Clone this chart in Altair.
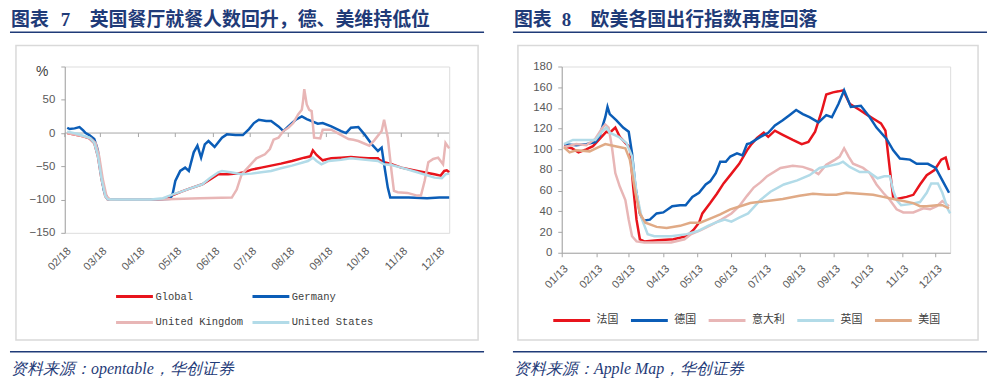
import altair as alt
import pandas as pd

# ---------------- Left panel: OpenTable seated diners, % y/y (days from 2020-02-18)
L_START = "2020-02-18"
L_NAMES = ["Global", "United Kingdom", "Germany", "United States"]
L_COLORS = ["#E8141C", "#E8B6B6", "#0B5DB7", "#B2DBE8"]

global_days = [2, 5, 10, 15, 20, 24, 27, 30, 33, 35, 50, 70, 80, 87, 95, 101, 112, 118, 125, 133,
               140, 146, 152, 160, 168, 176, 185, 195, 200, 202, 205, 210, 217, 225, 233, 240, 247, 255, 256, 260,
               265, 274, 287, 301, 306, 309, 311, 313]
global_vals = [0, -1, -3, -5, -8, -15, -35, -70, -95, -100, -100, -100, -99, -94, -88, -84, -77, -70, -62, -62,
               -61, -59, -55, -52, -49, -46, -42, -37, -35, -26, -33, -41, -38, -37, -36, -37, -38, -38, -40, -44,
               -46, -52, -57, -62, -64, -57, -56, -59]

germany_days = [2, 4, 8, 12, 15, 17, 20, 24, 26, 27, 29, 32, 35, 45, 60, 75, 86, 88, 90, 94,
                98, 101, 105, 108, 111, 114, 117, 122, 128, 132, 139, 145, 150, 154, 158, 164, 168, 174, 178, 182,
                188, 193, 197, 201, 206, 210, 217, 225, 229, 231, 233, 239, 244, 250, 255, 258, 260, 263, 265, 280,
                295, 305, 313]
germany_vals = [8, 6, 7, 9, 4, 0, -3, -9, -20, -27, -55, -87, -99, -100, -100, -100, -99, -90, -72, -57,
                -52, -57, -29, -19, -37, -17, -12, -21, -7, -2, -3, -3, 6, 15, 20, 18, 18, 10, 3, 10,
                20, 25, 21, 18, 14, 15, 10, 3, 0, 4, 8, 9, -2, -17, -27, -22, -47, -82, -97, -97,
                -98, -97, -97]

uk_days = [2, 7, 15, 21, 25, 28, 31, 34, 37, 60, 80, 90, 110, 136, 140, 144, 150, 156, 163, 167,
           170, 174, 178, 182, 186, 190, 193, 194, 195, 197, 199, 201, 203, 208, 210, 217, 224, 231, 235, 239,
           248, 252, 258, 260, 263, 266, 268, 271, 279, 287, 290, 293, 296, 300, 304, 308, 310, 313]
uk_vals = [0, -2, -5, -8, -15, -35, -70, -95, -100, -100, -100, -99, -98, -97, -85, -62, -50, -38, -32, -24,
           -10, -7, 3, 8, 15, 28, 35, 48, 66, 43, 35, 33, -7, -8, 5, 5, -2, -9, -10, -12,
           -19, -11, 3, 20, -7, -57, -87, -89, -90, -94, -94, -72, -44, -39, -37, -47, -15, -23]

us_days = [2, 5, 10, 15, 20, 24, 27, 30, 33, 35, 50, 70, 80, 87, 95, 101, 112, 118, 125, 128,
           135, 144, 152, 160, 168, 176, 185, 198, 202, 205, 209, 215, 225, 233, 245, 255, 260, 266, 274, 287,
           301, 307, 310, 313]
us_vals = [2, 1, -1, -4, -7, -15, -35, -70, -95, -100, -100, -100, -98, -93, -88, -84, -77, -68, -59, -57,
           -59, -62, -61, -59, -57, -53, -49, -42, -37, -42, -47, -42, -40, -38, -40, -42, -47, -48, -52, -59,
           -67, -68, -62, -61]

L_TICK_MONTHS = [2, 3, 4, 5, 6, 7, 8, 9, 10, 11, 12]   # ticks on the 18th
L_Y_TICKS = [-150, -100, -50, 0, 50, 100]

# ---------------- Right panel: Apple mobility index (days from 2020-01-13)
R_START = "2020-01-13"
R_NAMES = ["法国", "德国", "意大利", "英国", "美国"]
R_COLORS = ["#E8141C", "#0B5DB7", "#E8B6B6", "#B2DBE8", "#E0AA86"]

fr_days = [2, 9, 15, 22, 28, 34, 40, 43, 48, 52, 58, 61, 64, 67, 70, 74, 86, 100, 112, 118,
           123, 126, 133, 139, 145, 151, 159, 166, 170, 175, 181, 185, 191, 198, 207, 215, 221, 227, 233, 237,
           243, 248, 252, 258, 267, 274, 280, 286, 290, 294, 297, 300, 309, 315, 321, 327, 334, 340, 344, 347]
fr_vals = [103, 101, 97, 100, 103, 110, 117, 116, 121, 112, 105, 102, 64, 32, 13, 11, 12, 13, 16, 22,
           29, 38, 48, 57, 67, 75, 86, 99, 105, 111, 116, 112, 118, 114, 109, 105, 107, 117, 137, 153,
           155, 156, 157, 144, 138, 133, 129, 125, 118, 80, 53, 52, 54, 56, 66, 75, 80, 90, 92, 80]

de_days = [2, 13, 22, 30, 34, 39, 41, 43, 49, 55, 60, 63, 66, 70, 73, 79, 85, 91, 99, 106,
           111, 117, 123, 129, 133, 138, 142, 147, 151, 157, 162, 166, 169, 178, 185, 191, 198, 204, 210, 216,
           222, 230, 237, 242, 248, 253, 259, 268, 276, 282, 291, 297, 303, 312, 318, 328, 335, 341, 347]
de_vals = [105, 104, 105, 107, 113, 131, 141, 134, 128, 121, 117, 96, 64, 38, 31, 32, 38, 39, 45, 46,
           46, 54, 58, 66, 69, 77, 88, 88, 93, 96, 94, 105, 106, 112, 116, 123, 128, 133, 138, 134,
           131, 126, 133, 131, 144, 157, 141, 142, 131, 121, 110, 99, 91, 90, 86, 86, 82, 70, 58]

it_days = [2, 13, 22, 30, 36, 39, 42, 45, 48, 52, 57, 60, 63, 67, 74, 86, 98, 110, 116, 125,
           134, 143, 152, 159, 166, 172, 178, 184, 196, 207, 216, 224, 230, 237, 245, 249, 253, 257, 261, 270,
           276, 282, 288, 294, 300, 306, 315, 324, 330, 336, 341, 347]
it_vals = [102, 105, 104, 110, 120, 124, 121, 102, 77, 64, 51, 32, 16, 11, 10, 10, 10, 13, 18, 22,
           27, 32, 38, 45, 55, 63, 68, 74, 82, 84, 83, 80, 76, 85, 90, 93, 101, 93, 86, 82,
           77, 66, 58, 51, 42, 39, 39, 43, 42, 45, 50, 45]

gb_days = [2, 10, 22, 30, 36, 40, 43, 51, 58, 63, 67, 72, 77, 83, 98, 112, 122, 131, 140, 146,
           152, 159, 167, 173, 178, 187, 199, 211, 222, 231, 240, 248, 252, 258, 267, 275, 283, 289, 294, 297,
           300, 304, 312, 321, 327, 331, 337, 341, 346, 348]
gb_vals = [105, 109, 109, 109, 117, 121, 116, 112, 106, 93, 58, 32, 18, 16, 16, 18, 21, 26, 30, 32,
           30, 34, 38, 45, 51, 59, 66, 70, 75, 82, 84, 86, 88, 83, 78, 78, 72, 74, 74, 60,
           51, 46, 47, 49, 58, 67, 67, 58, 42, 38]

usa_days = [2, 7, 13, 25, 33, 39, 48, 57, 61, 66, 70, 75, 85, 94, 106, 115, 124, 133, 142, 151,
            160, 169, 176, 184, 198, 213, 225, 237, 246, 255, 267, 279, 288, 297, 306, 315, 321, 327, 336, 341,
            347]
usa_vals = [102, 97, 99, 98, 102, 105, 103, 101, 90, 58, 38, 29, 25, 24, 26, 29, 29, 33, 37, 42,
            45, 48, 49, 50, 52, 55, 57, 56, 56, 58, 57, 56, 54, 52, 50, 48, 45, 45, 46, 46,
            43]

R_TICK_MONTHS = list(range(1, 13))   # ticks on the 13th
R_Y_TICKS = list(range(0, 181, 20))

NAVY = "#1F3B78"
AXIS_GRAY = "#A6A6A6"
LABEL_GRAY = "#595959"
CJK = "Noto Sans CJK SC"


def frame(start, series):
    base = pd.Timestamp(start)
    rows = []
    for name, days, vals in series:
        for d, v in zip(days, vals):
            rows.append({"date": (base + pd.Timedelta(days=d)).strftime("%Y-%m-%dT%H:%M:%S"),
                         "value": v, "series": name})
    return pd.DataFrame(rows)


left_df = frame(L_START, [("Global", global_days, global_vals), ("Germany", germany_days, germany_vals),
                          ("United Kingdom", uk_days, uk_vals), ("United States", us_days, us_vals)])
right_df = frame(R_START, [("法国", fr_days, fr_vals), ("德国", de_days, de_vals), ("意大利", it_days, it_vals),
                           ("英国", gb_days, gb_vals), ("美国", usa_days, usa_vals)])

one = pd.DataFrame({"k": [0]})


def text(t, x, y, size, color, font, weight="normal", style="normal"):
    return alt.Chart(one).mark_text(text=t, align="left", baseline="middle", fontSize=size, font=font,
                                    fontWeight=weight, fontStyle=style, color=color).encode(
        x=alt.value(x), y=alt.value(y))


def hline(x1, x2, y, color, w, opacity=1):
    return alt.Chart(one).mark_rule(color=color, strokeWidth=w, opacity=opacity).encode(
        x=alt.value(x1), x2=alt.value(x2), y=alt.value(y))


def box(x1, x2, y1, y2):
    return alt.Chart(one).mark_rect(fillOpacity=0, stroke="#D9D9D9", strokeWidth=1.5).encode(
        x=alt.value(x1), x2=alt.value(x2), y=alt.value(y1), y2=alt.value(y2))


def decorations(x_left, x_right, box_l, box_r, fig_no, no_x, title, title_x, source):
    return [
        hline(x_left, x_right, -57.5, "white", 1, opacity=0),
        box(box_l, box_r, -21, 274.5),
        text("图表", x_left, -47, 19, NAVY, CJK, weight="bold"),
        text(fig_no, no_x, -47, 19, NAVY, "Liberation Serif", weight="bold"),
        text(title, title_x, -47, 19, NAVY, CJK, weight="bold"),
        hline(x_left - 1, x_right, -34.5, NAVY, 1.5),
        hline(x_left - 1, x_right, 286.5, NAVY, 1.5),
        text(source, x_left, 303.5, 16, NAVY, "Liberation Serif", style="italic"),
    ]


# ---------------- Left chart
LW, LH = 386, 167
l_tick_dates = [alt.DateTime(year=2020, month=m, date=18) for m in L_TICK_MONTHS]
l_xscale = alt.Scale(domain=[alt.DateTime(year=2020, month=2, date=18),
                             alt.DateTime(year=2020, month=12, date=27)], nice=False)
l_yscale = alt.Scale(domain=[-150, 100], nice=False)
l_xaxis = alt.Axis(values=l_tick_dates, format="%m/%d", labelAngle=-45, labelAlign="right",
                   labelBaseline="top", domain=False, ticks=False, grid=False, title=None,
                   labelOverlap=False, labelPadding=12, labelFontSize=11, labelColor=LABEL_GRAY,
                   labelFont="Liberation Sans")
l_yaxis = alt.Axis(values=L_Y_TICKS, labelExpr="datum.value == 100 ? '' : datum.label",
                   domainColor=AXIS_GRAY, tickColor=AXIS_GRAY, tickSize=4, grid=False, title=None,
                   labelOverlap=False, labelPadding=6, labelFontSize=11.5, labelColor=LABEL_GRAY,
                   labelFont="Liberation Sans")

l_lines = alt.Chart(left_df).mark_line(strokeWidth=2.5).encode(
    x=alt.X("date:T", scale=l_xscale, axis=l_xaxis),
    y=alt.Y("value:Q", scale=l_yscale, axis=l_yaxis),
    color=alt.Color("series:N", scale=alt.Scale(domain=L_NAMES, range=L_COLORS),
                    legend=alt.Legend(title=None, orient="none", legendX=50, legendY=211, columns=2,
                                      symbolType="stroke", symbolSize=1369, symbolStrokeWidth=3,
                                      labelFont="Liberation Mono", labelFontSize=10.5, labelColor="#404040",
                                      columnPadding=2, rowPadding=-1, labelOffset=1, padding=0)),
)

l_tick_df = pd.DataFrame({"date": [f"2020-{m:02d}-18T00:00:00" for m in L_TICK_MONTHS],
                          "top": [0] * len(L_TICK_MONTHS), "bottom": [-6] * len(L_TICK_MONTHS)})
l_zero = alt.Chart(l_tick_df).mark_rule(color=AXIS_GRAY, strokeWidth=1).encode(
    x=alt.value(0), x2=alt.value(LW),
    y=alt.Y("min(top):Q", scale=l_yscale, axis=l_yaxis))
l_ticks = alt.Chart(l_tick_df).mark_rule(color=AXIS_GRAY, strokeWidth=1).encode(
    x=alt.X("date:T", scale=l_xscale, axis=l_xaxis),
    y=alt.Y("top:Q", scale=l_yscale, axis=l_yaxis), y2="bottom:Q")
l_pct = text("%", -29, 5.5, 14, "#404040", "Liberation Sans")

left = alt.layer(
    *decorations(-54, 421, -49, 415, "7", -4, "英国餐厅就餐人数回升，德、美维持低位", 25,
                 "资料来源：opentable，华创证券"),
    l_pct, l_zero, l_ticks, l_lines,
).properties(width=LW, height=LH)

# ---------------- Right chart
RW, RH = 390, 187
r_tick_dates = [alt.DateTime(year=2020, month=m, date=13) for m in R_TICK_MONTHS]
r_xscale = alt.Scale(domain=[alt.DateTime(year=2020, month=1, date=13),
                             alt.DateTime(year=2020, month=12, date=26)], nice=False)

r_lines = alt.Chart(right_df).mark_line(strokeWidth=2.5).encode(
    x=alt.X("date:T", scale=r_xscale,
            axis=alt.Axis(values=r_tick_dates, format="%m/%d", labelAngle=-45, labelAlign="right",
                          labelBaseline="top", domainColor=AXIS_GRAY, tickColor=AXIS_GRAY, tickSize=4,
                          grid=False, title=None, labelOverlap=False, labelPadding=6, labelFontSize=11,
                          labelColor=LABEL_GRAY, labelFont="Liberation Sans")),
    y=alt.Y("value:Q", scale=alt.Scale(domain=[0, 180], nice=False),
            axis=alt.Axis(values=R_Y_TICKS, domainColor=AXIS_GRAY, tickColor=AXIS_GRAY, tickSize=4,
                          grid=False, title=None, labelOverlap=False, labelPadding=6, labelFontSize=11.5,
                          labelColor=LABEL_GRAY, labelFont="Liberation Sans")),
    color=alt.Color("series:N", scale=alt.Scale(domain=R_NAMES, range=R_COLORS),
                    legend=alt.Legend(title=None, orient="none", legendX=-10, legendY=235,
                                      direction="horizontal", gridAlign="each", symbolType="stroke",
                                      symbolSize=1369, symbolStrokeWidth=3, labelFont=CJK, labelFontSize=11,
                                      labelColor="#404040", columnPadding=6, labelOffset=5, padding=0)),
)

right = alt.layer(
    *decorations(-48, 427, -44, 418, "8", 0, "欧美各国出行指数再度回落", 29,
                 "资料来源：Apple Map，华创证券"),
    r_lines,
).properties(width=RW, height=RH)

chart = alt.hconcat(left, right, spacing=113, bounds="flush", padding=0).resolve_scale(
    color="independent").configure_view(strokeWidth=0).configure(background="white")

chart.save("out.html", embed_options={"renderer": "svg", "actions": False})
